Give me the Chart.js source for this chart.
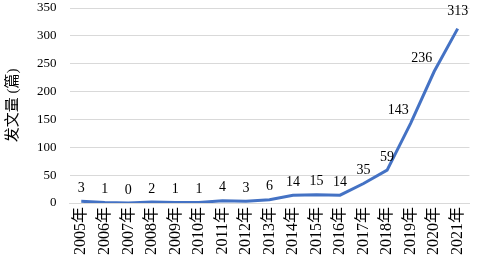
<!DOCTYPE html>
<html>
<head>
<meta charset="utf-8">
<script src="https://cdn.jsdelivr.net/npm/chart.js@4.4.0/dist/chart.umd.min.js"></script>
<style>
  html, body { margin: 0; padding: 0; background: #fff; }
  #wrap { width: 481px; height: 261px; }
</style>
</head>
<body>
<div id="wrap"><canvas id="chartFawen"></canvas></div>
<script>
// data
const years = ['2005年','2006年','2007年','2008年','2009年','2010年','2011年','2012年','2013年',
               '2014年','2015年','2016年','2017年','2018年','2019年','2020年','2021年'];
const counts = [3, 1, 0, 2, 1, 1, 4, 3, 6, 14, 15, 14, 35, 59, 143, 236, 313];
const yTicks = [0, 50, 100, 150, 200, 250, 300, 350];

const fontFam = '"Liberation Serif", "Times New Roman", "Noto Sans CJK SC", serif';

// value labels above the points (steep ones pushed to the left like excel does)
const labelPlugin = {
    id: 'labelPlugin',
    afterDatasetsDraw(chart) {
        const ctx = chart.ctx;
        const meta = chart.getDatasetMeta(0);
        ctx.save();
        ctx.font = '14px ' + fontFam;
        ctx.fillStyle = '#000';
        ctx.textBaseline = 'bottom';
        meta.data.forEach(function (pt, i) {
            let x = pt.x, y = pt.y - 6;
            ctx.textAlign = 'center';
            if (i === counts.length - 3 || i === counts.length - 2) {
                ctx.textAlign = 'right';
                x = pt.x - 2;
                y = pt.y - 6;
            }
            if (i === counts.length - 1) {
                y = pt.y - 10;
            }
            ctx.fillText(String(counts[i]), x, y);
        });
        ctx.restore();
    }
};

const dataFawen = {
    labels: years,
    datasets: [{
        label: '发文量',
        data: counts,
        borderColor: '#4472C4',
        backgroundColor: '#4472C4',
        borderWidth: 3,
        pointRadius: 0,
        tension: 0
    }]
};

const configFawen = {
    type: 'line',
    data: dataFawen,
    options: {
        responsive: true,
        maintainAspectRatio: false,
        animation: false,
        layout: { padding: { left: 4, right: 4, top: 0, bottom: 0 } },
        plugins: {
            legend: { display: false },
            tooltip: { enabled: false }
        },
        scales: {
            x: {
                offset: true,
                grid: { display: false, drawTicks: false },
                border: { display: true, color: '#d9d9d9' },
                ticks: {
                    color: '#000',
                    minRotation: 90,
                    maxRotation: 90,
                    padding: 4,
                    autoSkip: false,
                    font: { family: fontFam, size: 16 }
                },
                afterFit(scale) {
                    scale.height = 58;
                }
            },
            y: {
                min: 0,
                max: 350,
                afterBuildTicks(axis) {
                    axis.ticks = yTicks.map(v => ({ value: v }));
                },
                afterFit(scale) {
                    // tick padding is counted into the top gap, keep just half a label
                    scale.paddingTop = 8;
                    scale.paddingBottom = 8;
                },
                grid: { color: '#d9d9d9', drawTicks: false },
                border: { display: false },
                title: {
                    display: true,
                    text: '发文量 (篇)',
                    color: '#000',
                    padding: { top: 0, bottom: 2 },
                    font: { family: fontFam, size: 15 }
                },
                ticks: {
                    color: '#000',
                    padding: 13,
                    font: { family: fontFam, size: 13 }
                }
            }
        }
    },
    plugins: [labelPlugin]
};

var chartFawen = new Chart(document.getElementById('chartFawen'), configFawen);
</script>
</body>
</html>
